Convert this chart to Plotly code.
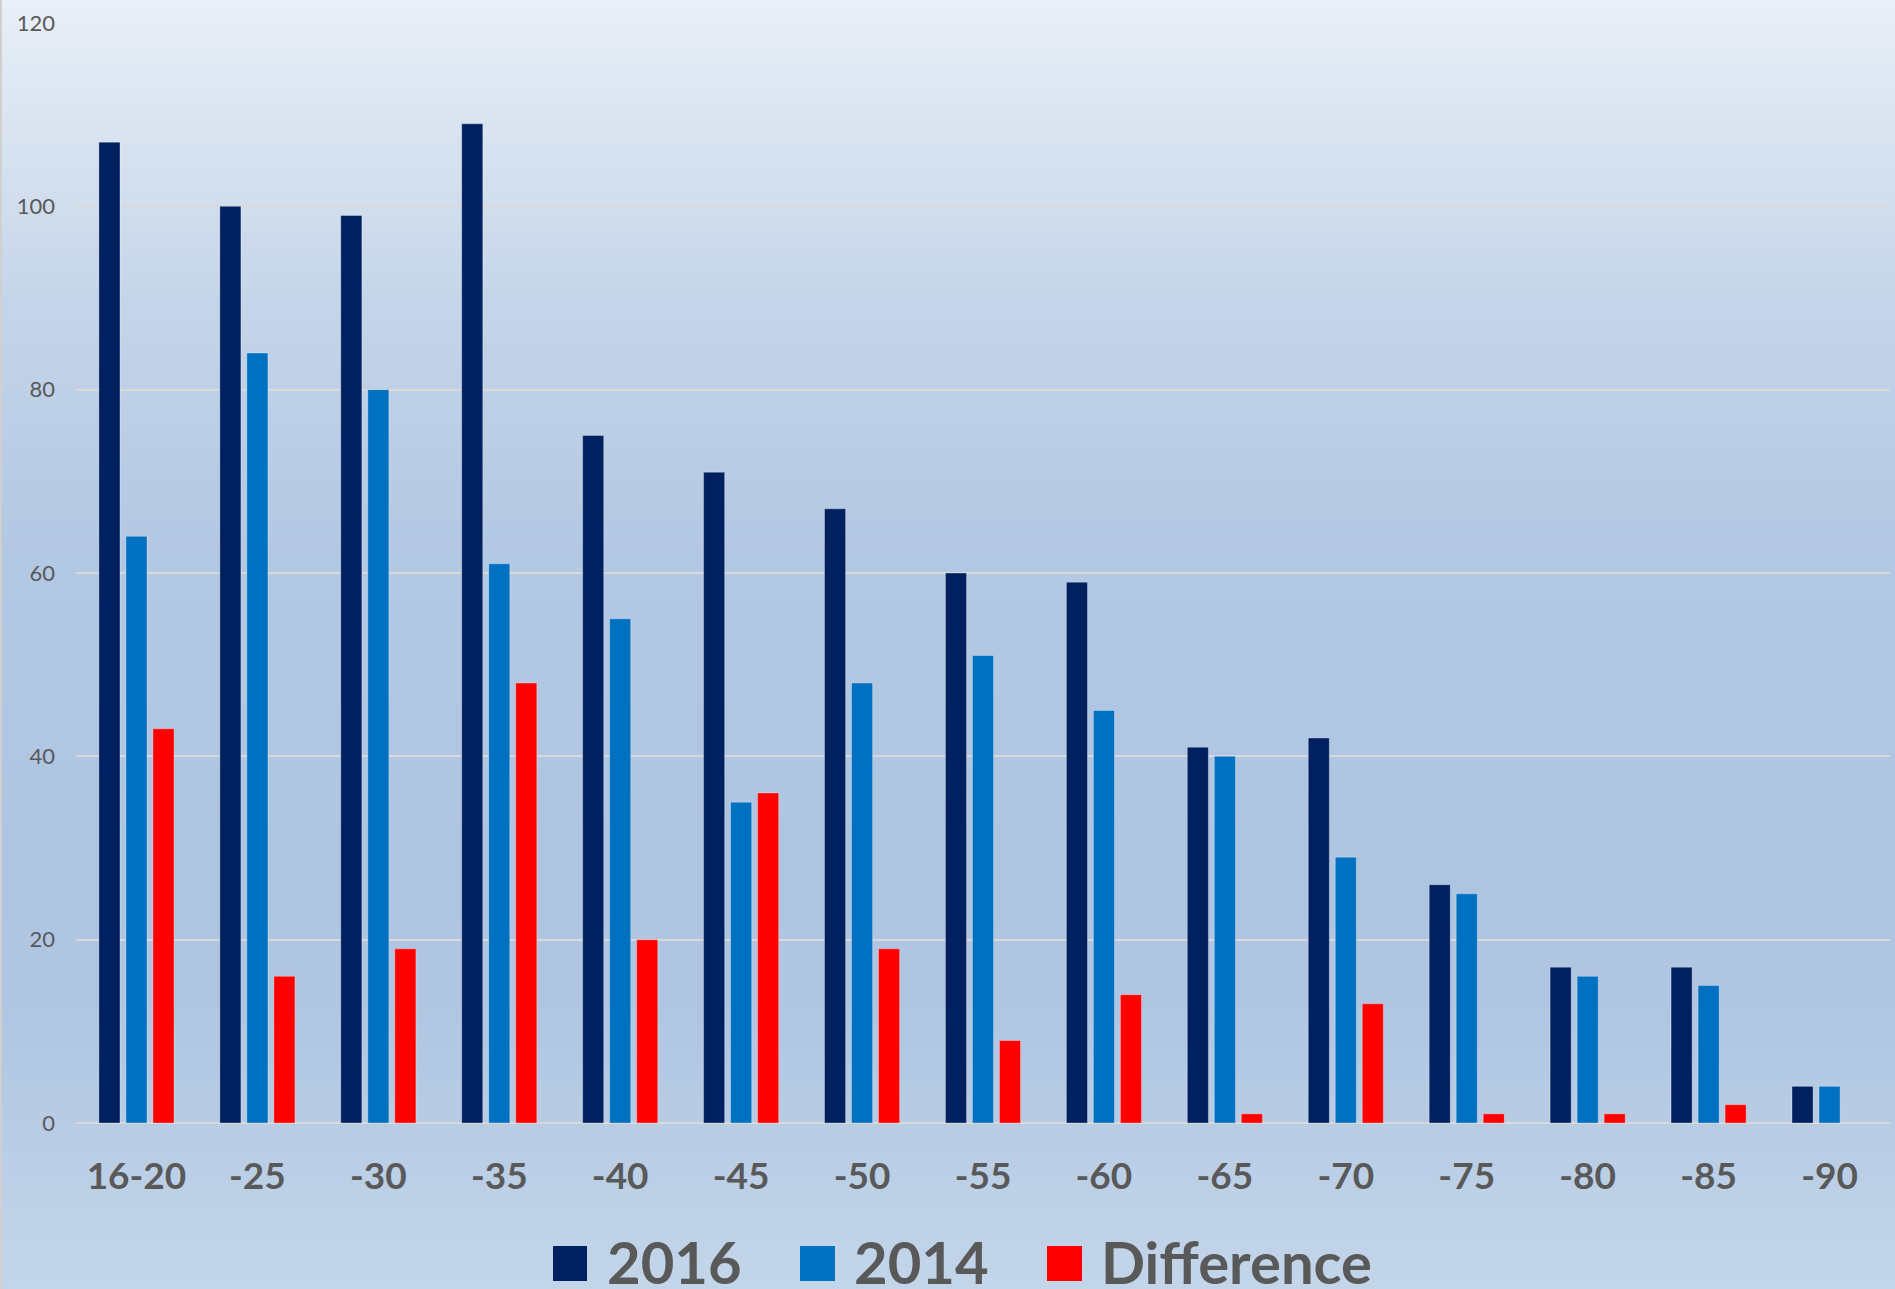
import plotly.graph_objects as go

# Age bands and counts per year
age_groups = ["16-20", "-25", "-30", "-35", "-40", "-45", "-50", "-55",
              "-60", "-65", "-70", "-75", "-80", "-85", "-90"]
count_2016 = [107, 100, 99, 109, 75, 71, 67, 60, 59, 41, 42, 26, 17, 17, 4]
count_2014 = [64, 84, 80, 61, 55, 35, 48, 51, 45, 40, 29, 25, 16, 15, 4]
difference = [43, 16, 19, 48, 20, 36, 19, 9, 14, 1, 13, 1, 1, 2, 0]

series_names = ["2016", "2014", "Difference"]
series_colors = ["#002060", "#0070C0", "#FF0000"]

# Figure geometry (pixels)
W, H = 1895, 1289
ML, MR, MT, MB = 76, 5, 23, 166
PW, PH = W - ML - MR, H - MT - MB


def paper_x(px):
    return (px - ML) / PW


def paper_y(py):
    return (H - MB - py) / PH


TEXT_GREY = "#595959"
FONT = "Lato"

fig = go.Figure()
for name, vals, col in zip(series_names, [count_2016, count_2014, difference], series_colors):
    fig.add_bar(
        x=age_groups, y=vals, name=name, showlegend=False,
        marker=dict(color=col,
                    line=dict(color="rgba(255,255,255,0.3)",
                              width=[1 if v else 0 for v in vals])),
    )

shapes = []

# Vertical background gradient built from thin strips
grad_stops = [(0, (0xe9, 0xef, 0xf7)), (300, (0xc5, 0xd5, 0xe9)), (550, (0xb3, 0xc8, 0xe3)),
              (850, (0xae, 0xc5, 0xe1)), (1000, (0xaf, 0xc5, 0xe1)), (1289, (0xc3, 0xd5, 0xe9))]


def grad_color(py):
    for (y0, c0), (y1, c1) in zip(grad_stops, grad_stops[1:]):
        if y0 <= py <= y1:
            t = (py - y0) / (y1 - y0)
            r, g, b = (round(a + (bb - a) * t) for a, bb in zip(c0, c1))
            return f"rgb({r},{g},{b})"
    return "rgb(%d,%d,%d)" % grad_stops[-1][1]


step = 6
for py in range(0, H, step):
    shapes.append(dict(type="rect", xref="paper", yref="paper", layer="below",
                       x0=paper_x(0), x1=paper_x(W),
                       y0=paper_y(min(py + step + 1, H)), y1=paper_y(py),
                       fillcolor=grad_color(py + step / 2), line=dict(width=0)))

# Thin chart border on the left edge
shapes.append(dict(type="line", xref="paper", yref="paper", layer="above",
                   x0=paper_x(1), x1=paper_x(1), y0=paper_y(H), y1=paper_y(0),
                   line=dict(color="#d0d0d0", width=2)))

# Legend swatches and labels along the bottom
legend_boxes = [(553, 587), (800, 835), (1047, 1082)]
legend_text_x = [605, 852, 1099]
annotations = []
for (x0, x1), tx, name, col in zip(legend_boxes, legend_text_x, series_names, series_colors):
    shapes.append(dict(type="rect", xref="paper", yref="paper", layer="above",
                       x0=paper_x(x0), x1=paper_x(x1), y0=paper_y(1281), y1=paper_y(1246),
                       fillcolor=col, line=dict(width=0)))
    annotations.append(dict(text=name, xref="paper", yref="paper",
                            x=paper_x(tx), y=paper_y(1261), xanchor="left", yanchor="middle",
                            showarrow=False,
                            font=dict(family=FONT, size=58, color=TEXT_GREY, weight="bold")))

fig.update_layout(
    width=W, height=H,
    margin=dict(l=ML, r=MR, t=MT, b=MB, pad=0),
    paper_bgcolor="#c3d5e9",
    plot_bgcolor="rgba(0,0,0,0)",
    barmode="group", bargap=0.33, bargroupgap=0.22,
    shapes=shapes, annotations=annotations,
    xaxis=dict(showgrid=False, showline=False, ticks="", zeroline=False,
               tickfont=dict(family=FONT, size=37, color=TEXT_GREY, weight="bold"),
               ticklabelstandoff=28),
    yaxis=dict(range=[0, 120], dtick=20, showline=False, ticks="",
               gridcolor="#d9d9d9", gridwidth=2,
               zeroline=True, zerolinecolor="#d9d9d9", zerolinewidth=2,
               tickfont=dict(family=FONT, size=22, color=TEXT_GREY),
               ticklabelstandoff=20),
)

fig.write_html("out.html", config={"displayModeBar": False})
